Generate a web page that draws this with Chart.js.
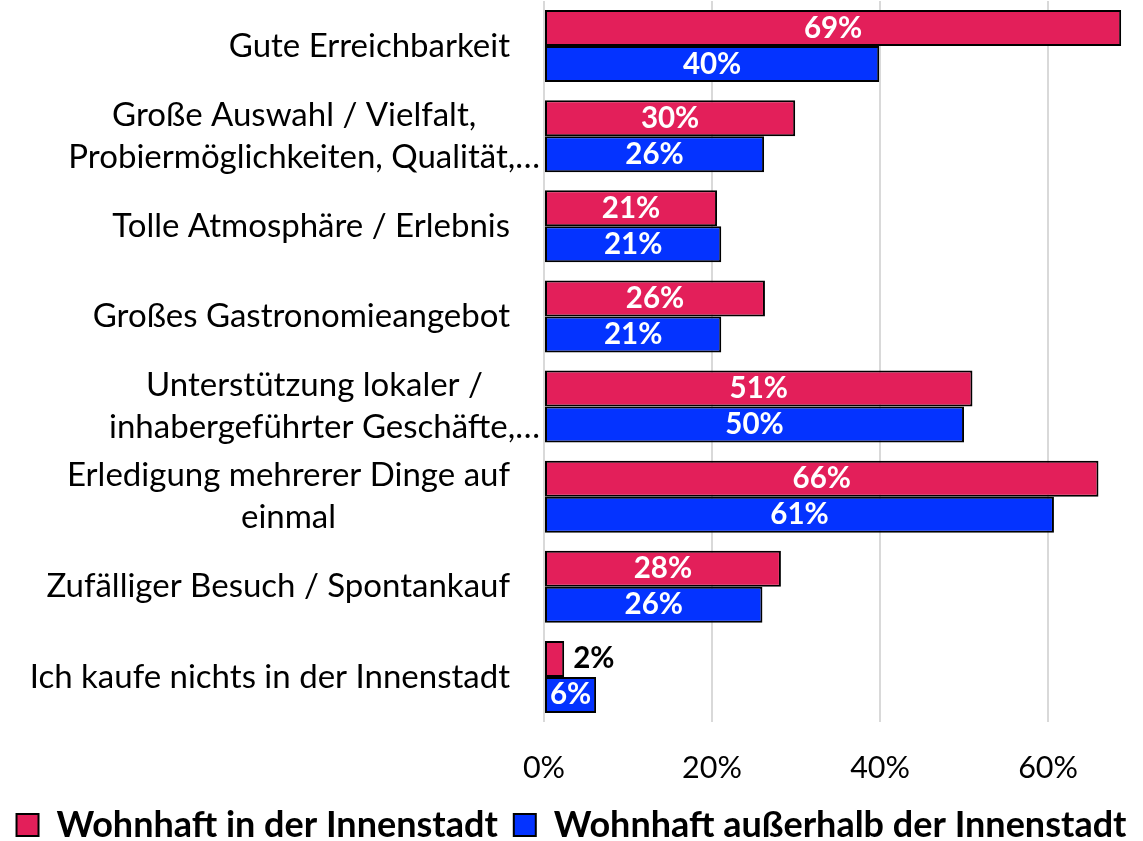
<!DOCTYPE html>
<html><head><meta charset="utf-8">
<script src="https://cdn.jsdelivr.net/npm/chart.js@4"></script>
<style>html,body{margin:0;padding:0;background:#fff}canvas{display:block}</style>
</head><body>
<canvas id="c" width="1143" height="841"></canvas>
<script>
const categories = [
  ["Gute Erreichbarkeit"],
  ["Große Auswahl / Vielfalt,", "Probiermöglichkeiten, Qualität,…"],
  ["Tolle Atmosphäre / Erlebnis"],
  ["Großes Gastronomieangebot"],
  ["Unterstützung lokaler /", "inhabergeführter Geschäfte,…"],
  ["Erledigung mehrerer Dinge auf", "einmal"],
  ["Zufälliger Besuch / Spontankauf"],
  ["Ich kaufe nichts in der Innenstadt"]
];
const seriesNames = ["Wohnhaft in der Innenstadt", "Wohnhaft außerhalb der Innenstadt"];
const innenstadt = [68.7, 29.9, 20.6, 26.3, 51.0, 66.0, 28.2, 2.4];
const ausserhalb = [39.9, 26.2, 21.1, 21.1, 50.0, 60.7, 26.0, 6.2];
const xTicks = [0, 20, 40, 60];

const FONT = "Lato";
const catFont = "33px " + FONT;

const yLabelPlugin = {
  id: 'yLabels',
  afterDraw(chart) {
    const ctx = chart.ctx, y = chart.scales.y;
    ctx.save();
    ctx.font = catFont;
    ctx.fillStyle = '#000';
    ctx.textBaseline = 'middle';
    ctx.textAlign = 'center';
    const lh = 42;
    categories.forEach((lines, i) => {
      const cy = y.getPixelForTick(i);
      const trunc = lines.some(l => l.endsWith('…'));
      const right = trunc ? 530 : 510;
      const w = Math.max(...lines.map(l => ctx.measureText(l).width));
      const cx = right - w / 2;
      lines.forEach((l, k) => {
        let x = cx;
        if (l.endsWith('…')) x = 540 - ctx.measureText(l).width / 2;
        ctx.fillText(l, x, cy + (k - (lines.length - 1) / 2) * lh);
      });
    });
    ctx.restore();
  }
};

const valueLabelPlugin = {
  id: 'valueLabels',
  afterDatasetsDraw(chart) {
    const ctx = chart.ctx;
    ctx.save();
    ctx.font = "bold 29.5px " + FONT;
    ctx.textBaseline = 'middle';
    chart.data.datasets.forEach((ds, di) => {
      const meta = chart.getDatasetMeta(di);
      meta.data.forEach((bar, i) => {
        const v = ds.data[i];
        const txt = Math.round(v) + '%';
        const w = ctx.measureText(txt).width;
        const len = bar.x - bar.base;
        if (len > w + 4) {
          ctx.fillStyle = '#fff';
          ctx.textAlign = 'center';
          ctx.fillText(txt, (bar.x + bar.base) / 2, bar.y);
        } else if (di === 1) {
          ctx.fillStyle = '#fff';
          ctx.textAlign = 'center';
          ctx.fillText(txt, (bar.x + bar.base) / 2 + 8, bar.y);
        } else {
          ctx.fillStyle = '#000';
          ctx.textAlign = 'left';
          ctx.fillText(txt, bar.x + 9, bar.y);
        }
      });
    });
    ctx.restore();
  }
};

new Chart(document.getElementById('c'), {
  type: 'bar',
  data: {
    labels: categories,
    datasets: [
      { label: seriesNames[0], data: innenstadt, backgroundColor: '#E31F5A', borderColor: '#000', borderWidth: 2, borderSkipped: false },
      { label: seriesNames[1], data: ausserhalb, backgroundColor: '#0433FF', borderColor: '#000', borderWidth: 2, borderSkipped: false }
    ]
  },
  options: {
    indexAxis: 'y',
    responsive: false,
    animation: false,
    layout: { padding: { top: 1, right: 0, left: 0, bottom: 0 } },
    categoryPercentage: 0.8,
    barPercentage: 1.0,
    scales: {
      x: {
        min: 0, max: 71.3,
        afterBuildTicks: axis => { axis.ticks = xTicks.map(v => ({ value: v })); },
        grid: { color: '#D9D9D9', lineWidth: 2, drawTicks: false },
        border: { display: false },
        ticks: { callback: v => v + '%', font: { family: FONT, size: 30.5 }, color: '#000', padding: 28 },
        afterFit: s => { s.height = 69; }
      },
      y: {
        grid: { display: false },
        border: { display: false },
        ticks: { display: false },
        afterFit: s => { s.width = 544; }
      }
    },
    plugins: {
      legend: {
        position: 'bottom',
        maxHeight: 50,
        labels: {
          font: { family: FONT, size: 36, weight: 'bold' },
          color: '#000',
          boxWidth: 22, boxHeight: 22,
          padding: 16,
          generateLabels: chart => chart.data.datasets.map((ds, i) => ({
            text: ds.label, fillStyle: ds.backgroundColor, strokeStyle: '#000', lineWidth: 2, datasetIndex: i, hidden: false
          }))
        }
      },
      tooltip: { enabled: false }
    }
  },
  plugins: [yLabelPlugin, valueLabelPlugin]
});
</script>
</body></html>
